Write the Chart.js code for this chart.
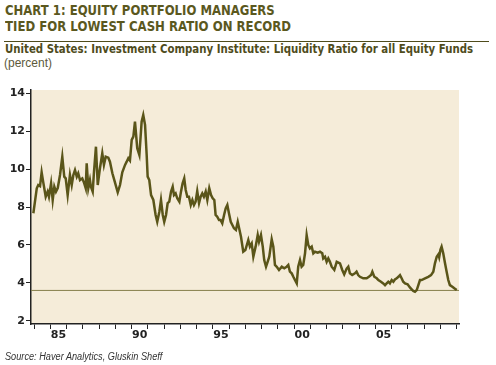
<!DOCTYPE html>
<html>
<head>
<meta charset="utf-8">
<script src="https://cdn.jsdelivr.net/npm/chart.js@4.4.1/dist/chart.umd.min.js"></script>
<style>
  html, body { margin: 0; padding: 0; background: #fff; }
  body { width: 496px; height: 365px; position: relative; overflow: hidden; font-family: "Liberation Sans", Arial, sans-serif; }
  .txt { position: absolute; white-space: nowrap; transform-origin: 0 0; }
  .title { left: 5px; font-family: "DejaVu Sans", sans-serif; font-size: 14px; line-height: 14px; font-weight: bold; color: #5b581e; }
  .sub { left: 5px; top: 43px; font-family: "DejaVu Sans", sans-serif; font-size: 12px; line-height: 12px; font-weight: bold; color: #4f4c1c; }
  .unit { left: 4px; top: 56.5px; font-size: 12px; line-height: 12px; color: #5d5a3c; }
  .source { left: 5px; top: 352px; font-size: 10px; line-height: 10px; font-style: italic; color: #333; }
  .rule { position: absolute; left: 4px; top: 40.5px; width: 485px; height: 1.5px; background: #4f4c1c; }
  #chart { position: absolute; left: 0; top: 0; }
</style>
</head>
<body>
<div class="txt title" id="t1" style="top:3.3px">CHART 1: EQUITY PORTFOLIO MANAGERS</div>
<div class="txt title" id="t2" style="top:19px">TIED FOR LOWEST CASH RATIO ON RECORD</div>
<div class="rule"></div>
<div class="txt sub" id="st">United States: Investment Company Institute: Liquidity Ratio for all Equity Funds</div>
<div class="txt unit">(percent)</div>
<canvas id="chart" width="496" height="365"></canvas>
<div class="txt source" id="src">Source: Haver Analytics, Gluskin Sheff</div>
<script>
// liquidity ratio (year as decimal, percent)
const years = [
  1983.96, 1984.17, 1984.26, 1984.37, 1984.47, 1984.57, 1984.72, 1984.84, 1984.92,
  1985.05, 1985.15, 1985.25, 1985.35, 1985.46, 1985.60, 1985.74, 1985.86, 1985.95,
  1986.07, 1986.21, 1986.32, 1986.42, 1986.52, 1986.63, 1986.72, 1986.83, 1986.97,
  1987.09, 1987.18, 1987.24, 1987.34, 1987.44, 1987.50, 1987.61, 1987.69, 1987.81, 1987.92,
  1988.04, 1988.20, 1988.30, 1988.41, 1988.57, 1988.67, 1988.82, 1988.94,
  1989.15, 1989.29, 1989.43, 1989.60, 1989.70, 1989.80, 1989.90,
  1990.01, 1990.11, 1990.21, 1990.35, 1990.48, 1990.62, 1990.72, 1990.83, 1990.93, 1990.99,
  1991.09, 1991.20, 1991.34, 1991.48, 1991.58, 1991.71, 1991.81, 1991.92,
  1992.01, 1992.12, 1992.22, 1992.32, 1992.43, 1992.53, 1992.61, 1992.71, 1992.81, 1992.94,
  1993.04, 1993.14, 1993.24, 1993.33, 1993.43, 1993.53, 1993.64, 1993.74, 1993.84, 1993.94,
  1994.04, 1994.15, 1994.25, 1994.35, 1994.45, 1994.56, 1994.66, 1994.78, 1994.89, 1994.99,
  1995.09, 1995.17, 1995.27, 1995.38, 1995.48, 1995.58, 1995.69, 1995.79, 1995.89, 1995.99,
  1996.10, 1996.20, 1996.30, 1996.42, 1996.53, 1996.73, 1996.87,
  1997.00, 1997.18, 1997.28, 1997.39, 1997.49, 1997.63, 1997.76, 1997.84, 1997.96,
  1998.07, 1998.16, 1998.27, 1998.37, 1998.47, 1998.62, 1998.72, 1998.82, 1998.93,
  1999.07, 1999.24, 1999.39, 1999.54, 1999.64, 1999.74, 1999.85, 1999.95,
  2000.05, 2000.16, 2000.25, 2000.36, 2000.46, 2000.56, 2000.67, 2000.77, 2000.87, 2000.97,
  2001.08, 2001.18, 2001.28, 2001.45, 2001.59, 2001.73, 2001.79, 2001.90,
  2002.00, 2002.10, 2002.20, 2002.31, 2002.47, 2002.62, 2002.82, 2002.96,
  2003.08, 2003.23, 2003.33, 2003.43, 2003.57, 2003.74, 2003.84, 2003.94,
  2004.05, 2004.25, 2004.46, 2004.60, 2004.73, 2004.81, 2004.93,
  2005.08, 2005.18, 2005.34, 2005.48, 2005.59, 2005.69, 2005.79, 2005.89,
  2006.00, 2006.10, 2006.20, 2006.31, 2006.41, 2006.51, 2006.61, 2006.71, 2006.82, 2006.98,
  2007.12, 2007.23, 2007.33, 2007.43, 2007.54, 2007.64, 2007.74, 2007.84,
  2008.05, 2008.25, 2008.42, 2008.56, 2008.66, 2008.77, 2008.87, 2008.92, 2009.00,
  2009.07, 2009.17, 2009.28, 2009.38, 2009.48, 2009.58, 2009.73, 2009.85, 2010.00
];
const ratio = [
  7.67, 8.99, 9.16, 9.10, 9.83, 9.30, 8.54, 8.81, 8.54,
  9.25, 8.37, 9.07, 8.81, 9.00, 9.69, 10.65, 9.60, 9.51,
  8.63, 9.69, 9.16, 9.69, 9.95, 9.60, 9.78, 9.42, 9.51,
  9.25, 8.99, 10.30, 8.99, 9.42, 9.07, 8.81, 9.86, 11.18, 9.16,
  9.95, 10.83, 10.22, 10.65, 10.60, 10.39, 9.78, 9.42,
  8.77, 9.16, 9.83, 10.22, 10.39, 10.57, 10.45,
  11.54, 11.71, 12.50, 11.10, 10.74, 12.50, 12.85, 12.33, 10.74, 9.60,
  9.42, 8.63, 8.37, 7.58, 7.22, 7.75, 8.37, 7.58,
  7.22, 7.58, 8.20, 8.28, 8.81, 9.07, 8.63, 8.72, 8.46, 8.28,
  8.81, 9.25, 9.51, 8.90, 8.54, 8.54, 8.11, 8.37, 8.11, 8.28,
  8.84, 8.20, 8.54, 8.72, 8.54, 8.81, 8.37, 8.99, 8.63, 8.46,
  8.37, 7.58, 7.49, 7.31, 7.31, 7.14, 7.58, 7.93, 8.11, 7.67,
  7.22, 7.05, 6.88, 6.79, 7.22, 6.43, 5.64,
  5.73, 6.26, 5.91, 6.08, 5.38, 5.91, 6.52, 6.17, 6.52,
  5.91, 5.20, 4.85, 5.11, 5.38, 6.30, 5.91, 4.94, 4.85,
  4.68, 4.85, 4.77, 4.85, 4.94, 4.59, 4.50, 4.32,
  4.15, 3.97, 4.85, 5.20, 4.85, 4.94, 5.56, 6.52, 6.00, 5.82,
  5.91, 5.56, 5.64, 5.59, 5.64, 5.56, 5.29, 5.38,
  5.11, 5.29, 5.11, 4.85, 4.68, 5.11, 5.03, 4.68,
  4.45, 4.75, 4.85, 4.50, 4.41, 4.50, 4.59, 4.41,
  4.32, 4.24, 4.24, 4.32, 4.41, 4.59, 4.32,
  4.24, 4.15, 4.06, 3.97, 3.88, 3.97, 4.06, 3.97,
  4.15, 4.06, 4.18, 4.24, 4.32, 4.41, 4.24, 4.06, 3.97, 3.92,
  3.76, 3.66, 3.57, 3.53, 3.62, 3.88, 4.15, 4.15,
  4.24, 4.32, 4.41, 4.59, 5.03, 5.38, 5.50, 5.35, 5.75,
  5.91, 5.56, 5.03, 4.59, 4.15, 3.88, 3.79, 3.71, 3.62
];
const recordLow = 3.6;
const yTicks = [2, 4, 6, 8, 10, 12, 14];
const yearTicks = [];
for (let y = 1984; y <= 2010; y++) yearTicks.push(y);
const labelYears = [1985, 1990, 1995, 2000, 2005];

const xMin = 1983.815, xMax = 2010.14;
const ink = '#222';
const olive = '#5a5519';

// squeeze the heading texts to the widths they have in the picture
function fit(id, w) {
  const el = document.getElementById(id);
  el.style.transform = 'scaleX(' + (w / el.offsetWidth) + ')';
}
fit('t1', 270);
fit('t2', 286);
fit('st', 468);
fit('src', 157);

const plotBg = {
  id: 'plotBg',
  beforeDraw(chart) {
    const { ctx, chartArea: a } = chart;
    ctx.save();
    ctx.fillStyle = '#f5ecd9';
    ctx.fillRect(a.left, a.top, a.right - a.left, a.bottom - a.top);
    ctx.restore();
  }
};

new Chart(document.getElementById('chart'), {
  type: 'line',
  data: {
    datasets: [
      {
        data: years.map((y, i) => ({ x: y, y: ratio[i] })),
        borderColor: olive,
        borderWidth: 2.5,
        pointRadius: 0,
        tension: 0
      },
      {
        data: [{ x: xMin, y: recordLow }, { x: xMax, y: recordLow }],
        borderColor: '#857f4c',
        borderWidth: 1,
        pointRadius: 0
      }
    ]
  },
  options: {
    responsive: false,
    animation: false,
    layout: { padding: { left: 0, top: 90, right: 37, bottom: 0 } },
    plugins: { legend: { display: false }, tooltip: { enabled: false } },
    scales: {
      x: {
        type: 'linear',
        min: xMin,
        max: xMax,
        afterBuildTicks: s => {
          s.ticks = yearTicks.map(v => ({ value: v }))
            .concat(labelYears.map(v => ({ value: v + 0.5 })));
        },
        afterFit: s => { s.height = 41; },
        border: { display: true, color: ink, width: 1.5 },
        grid: {
          drawOnChartArea: false,
          tickLength: 5,
          tickWidth: 1,
          tickColor: c => (c.tick && Number.isInteger(c.tick.value)) ? ink : 'rgba(0,0,0,0)'
        },
        ticks: {
          autoSkip: false,
          maxRotation: 0,
          padding: 0,
          color: ink,
          font: { family: 'DejaVu Sans', size: 11, weight: 'bold' },
          callback: v => Number.isInteger(v) ? '' : String(Math.floor(v) % 100).padStart(2, '0')
        }
      },
      y: {
        min: 1.83,
        max: 14.17,
        afterBuildTicks: s => { s.ticks = yTicks.map(v => ({ value: v })); },
        afterFit: s => { s.width = 31; },
        border: { display: true, color: ink, width: 1.5 },
        grid: { drawOnChartArea: false, tickLength: 5, tickColor: ink },
        ticks: {
          padding: 1,
          color: ink,
          font: { family: 'DejaVu Sans', size: 11, weight: 'bold' }
        }
      }
    }
  },
  plugins: [plotBg]
});
</script>
</body>
</html>
